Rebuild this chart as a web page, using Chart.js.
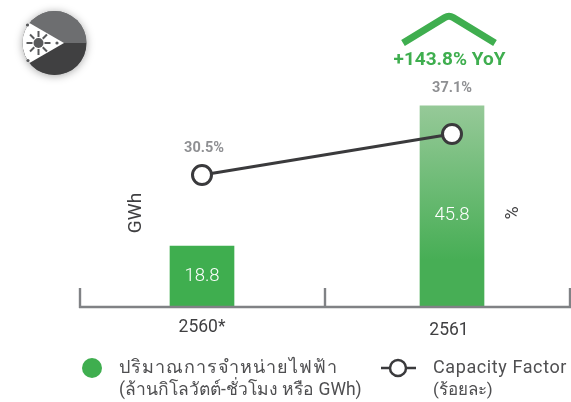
<!DOCTYPE html>
<html>
<head>
<meta charset="utf-8">
<script src="https://cdn.jsdelivr.net/npm/chart.js@4"></script>
<style>
html, body { margin: 0; padding: 0; background: #fff; overflow: hidden; }
#wrap { position: relative; width: 571px; height: 402px; overflow: hidden; }
canvas { position: absolute; left: 0; top: 0; }
</style>
</head>
<body>
<div id="wrap"><canvas id="chart" width="600" height="402" style="width:600px;height:402px"></canvas></div>
<script>
const categories = ['2560*', '2561'];
const salesGwh = [18.8, 45.8];
const capacityFactor = [30.5, 37.1];
const capacityLabels = ['30.5%', '37.1%'];
const yoyLabel = '+143.8% YoY';
const axisTitleLeft = 'GWh';
const axisTitleRight = '%';
const legendSales = ['ปริมาณการจำหน่ายไฟฟ้า', '(ล้านกิโลวัตต์-ชั่วโมง หรือ GWh)'];
const legendFactor = ['Capacity Factor', '(ร้อยละ)'];

const GREEN = '#3fae4f';
const LINE = '#3a3a3c';
const FONT = 'Roboto, "Noto Sans", sans-serif';

function text(ctx, str, x, y, font, color, align, spacing) {
    ctx.font = font;
    ctx.fillStyle = color;
    ctx.textAlign = align || 'center';
    ctx.textBaseline = 'middle';
    ctx.letterSpacing = (spacing || 0) + 'px';
    ctx.fillText(str, x, y);
    ctx.letterSpacing = '0px';
}

// Flag badge, top left
function drawFlag(ctx) {
    const cx = 54.5, cy = 43, r = 32;
    ctx.save();
    ctx.shadowColor = 'rgba(0,0,0,0.35)';
    ctx.shadowBlur = 8;
    ctx.shadowOffsetY = 1;
    ctx.fillStyle = '#6d6e70';
    ctx.beginPath(); ctx.arc(cx, cy, r, 0, Math.PI * 2); ctx.fill();
    ctx.restore();
    ctx.save();
    ctx.beginPath(); ctx.arc(cx, cy, r, 0, Math.PI * 2); ctx.clip();
    ctx.fillStyle = '#6d6e70'; ctx.fillRect(cx - r, cy - r, r * 2, r);
    ctx.fillStyle = '#404041'; ctx.fillRect(cx - r, cy, r * 2, r);
    ctx.fillStyle = '#fff';
    ctx.beginPath(); ctx.moveTo(26, 21); ctx.lineTo(64, 43); ctx.lineTo(26, 65); ctx.lineTo(15, 43); ctx.closePath(); ctx.fill();
    ctx.restore();
    ctx.fillStyle = '#58595b';
    ctx.beginPath(); ctx.arc(38.5, 43, 5, 0, Math.PI * 2); ctx.fill();
    ctx.strokeStyle = '#58595b';
    ctx.lineWidth = 2;
    for (let i = 0; i < 8; i++) {
        const a = i * Math.PI / 4;
        ctx.beginPath();
        ctx.moveTo(38.5 + Math.cos(a) * 6, 43 + Math.sin(a) * 6);
        ctx.lineTo(38.5 + Math.cos(a) * 12, 43 + Math.sin(a) * 12);
        ctx.stroke();
    }
    [[27.5, 25], [28, 60.5], [57, 43]].forEach(function(s) {
        ctx.beginPath(); ctx.arc(s[0], s[1], 1.6, 0, Math.PI * 2); ctx.fill();
    });
}

// Everything that is not a mark: axis bracket, labels, legend
const decorations = {
    id: 'decorations',
    afterDatasetsDraw(chart) {
        const ctx = chart.ctx;
        const x = chart.scales.x, y1 = chart.scales.y1;
        ctx.save();

        // axis bracket
        const base = 307;
        ctx.strokeStyle = '#808285';
        ctx.lineWidth = 2.4;
        ctx.beginPath(); ctx.moveTo(79, base); ctx.lineTo(571, base); ctx.stroke();
        [80, 325, 570].forEach(function(px) {
            ctx.beginPath(); ctx.moveTo(px, 288); ctx.lineTo(px, base + 1); ctx.stroke();
        });

        // category labels
        text(ctx, categories[0], x.getPixelForValue(0), 328, '17.5px ' + FONT, '#3f3f41');
        text(ctx, categories[1], x.getPixelForValue(1) - 3, 331, '17.5px ' + FONT, '#3f3f41');

        // bar values
        const bars = chart.getDatasetMeta(1).data;
        salesGwh.forEach(function(v, i) {
            const py = i === 0 ? 276 : 215;
            text(ctx, v.toFixed(1), bars[i].x, py, '300 18.5px ' + FONT, '#fff');
        });

        // capacity factor labels
        capacityLabels.forEach(function(s, i) {
            const px = x.getPixelForValue(i);
            const py = y1.getPixelForValue(capacityFactor[i]);
            text(ctx, s, px + (i === 0 ? 2 : 0), py - (i === 1 ? 46 : 27), 'bold 14.5px ' + FONT, '#8f9093');
        });

        // axis titles
        ctx.save();
        ctx.translate(136, 213); ctx.rotate(-Math.PI / 2);
        text(ctx, axisTitleLeft, 0, 0, '19px ' + FONT, '#3f3f41');
        ctx.restore();
        ctx.save();
        ctx.translate(513, 213); ctx.rotate(-Math.PI / 2);
        text(ctx, axisTitleRight, 0, 0, '18px ' + FONT, '#3f3f41');
        ctx.restore();

        // YoY chevron and text
        ctx.strokeStyle = GREEN;
        ctx.lineWidth = 7;
        ctx.lineCap = 'butt';
        ctx.lineJoin = 'round';
        ctx.beginPath(); ctx.moveTo(403, 43); ctx.arcTo(449, 15, 495, 43, 8); ctx.lineTo(495, 43); ctx.stroke();
        text(ctx, yoyLabel, 449.5, 60, 'bold 19px ' + FONT, GREEN);

        // legend
        ctx.fillStyle = GREEN;
        ctx.beginPath(); ctx.arc(92, 368, 10, 0, Math.PI * 2); ctx.fill();
        text(ctx, legendSales[0], 119, 368, '18px ' + FONT, '#4f4f51', 'left', 1);
        text(ctx, legendSales[1], 119, 391, '17.5px ' + FONT, '#4f4f51', 'left');
        ctx.strokeStyle = LINE;
        ctx.lineWidth = 2.5;
        ctx.beginPath(); ctx.moveTo(381, 368); ctx.lineTo(416, 368); ctx.stroke();
        ctx.fillStyle = '#fff';
        ctx.beginPath(); ctx.arc(398, 368, 8, 0, Math.PI * 2); ctx.fill(); ctx.stroke();
        text(ctx, legendFactor[0], 433, 368, '18px ' + FONT, '#4f4f51', 'left', 0.6);
        text(ctx, legendFactor[1], 433, 391, '17px ' + FONT, '#4f4f51', 'left');

        drawFlag(ctx);
        ctx.restore();
    }
};

const ctx = document.getElementById('chart').getContext('2d');

// Fade on the taller bar: light at the top, solid at the bottom
function barFill(context) {
    if (context.dataIndex === 0 || !context.chart.chartArea) return GREEN;
    const g = context.chart.ctx.createLinearGradient(0, 106, 0, 260);
    g.addColorStop(0, '#96c998');
    g.addColorStop(1, '#47ae55');
    return g;
}

new Chart(ctx, {
    type: 'bar',
    data: {
        labels: categories,
        datasets: [
            {
                type: 'line',
                data: capacityFactor,
                yAxisID: 'y1',
                borderColor: LINE,
                borderWidth: 3,
                pointRadius: 9.5,
                pointBackgroundColor: '#fff',
                pointBorderColor: LINE,
                pointBorderWidth: 3,
                tension: 0,
                order: 1
            },
            {
                type: 'bar',
                data: salesGwh,
                yAxisID: 'y',
                backgroundColor: barFill,
                borderWidth: 0,
                barThickness: 64,
                order: 2
            }
        ]
    },
    options: {
        responsive: false,
        animation: false,
        layout: { autoPadding: false, padding: { left: 77, right: 23, top: 0, bottom: 95 } },
        plugins: { legend: { display: false }, tooltip: { enabled: false } },
        scales: {
            x: { display: false, offset: true },
            // The reference bars are not proportional to their labels; a log axis reproduces both heights
            y: { type: 'logarithmic', display: false, min: 12.76, max: 89.8 },
            y1: { display: false, position: 'right', min: 9.25, max: 58.67 }
        }
    },
    plugins: [decorations]
});
</script>
</body>
</html>
